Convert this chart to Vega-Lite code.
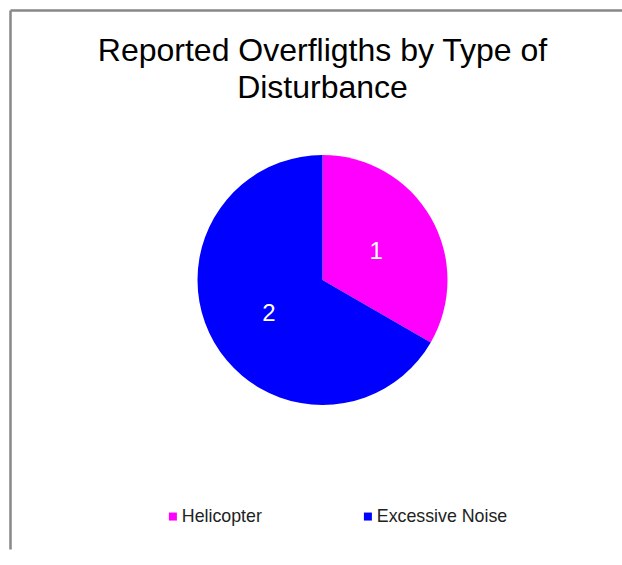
{
  "$schema": "https://vega.github.io/schema/vega-lite/v6.json",
  "width": 624,
  "height": 539,
  "autosize": {"type": "none"},
  "padding": {"left": 10.5, "top": 10.5, "right": 0, "bottom": 0},
  "background": "white",
  "view": {"stroke": "#888888", "strokeWidth": 2.5, "strokeDash": [1163, 624, 539, 0]},
  "title": {
    "text": ["Reported Overfligths by Type of", "Disturbance"],
    "frame": "group",
    "anchor": "middle",
    "orient": "top",
    "offset": -119,
    "baseline": "alphabetic",
    "fontSize": 32,
    "font": "Liberation Sans",
    "fontWeight": "normal",
    "color": "#000000",
    "lineHeight": 37
  },
  "data": {
    "values": [
      {"type": "Helicopter", "count": 1},
      {"type": "Excessive Noise", "count": 2}
    ]
  },
  "encoding": {
    "theta": {"field": "count", "type": "quantitative", "stack": true},
    "order": {"field": "type", "sort": "descending"},
    "detail": {"field": "type"}
  },
  "layer": [
    {
      "mark": {"type": "arc", "outerRadius": 125, "strokeWidth": 0},
      "encoding": {
        "color": {
          "field": "type",
          "type": "nominal",
          "scale": {"domain": ["Helicopter", "Excessive Noise"], "range": ["#FF00FF", "#0000FF"]},
          "legend": {
            "orient": "none",
            "legendX": 153.5,
            "legendY": 497,
            "direction": "horizontal",
            "columns": 2,
            "title": null,
            "padding": 0,
            "symbolType": "square",
            "symbolSize": 64,
            "symbolStrokeWidth": 0,
            "labelFontSize": 17.8,
            "labelFont": "Liberation Sans",
            "labelColor": "#222222",
            "labelOffset": 0,
            "columnPadding": 97
          }
        }
      }
    },
    {
      "mark": {"type": "text", "radius": 62, "fontSize": 24, "font": "Liberation Sans", "fill": "white", "dy": 3},
      "encoding": {
        "text": {"field": "count", "type": "quantitative"}
      }
    }
  ]
}
